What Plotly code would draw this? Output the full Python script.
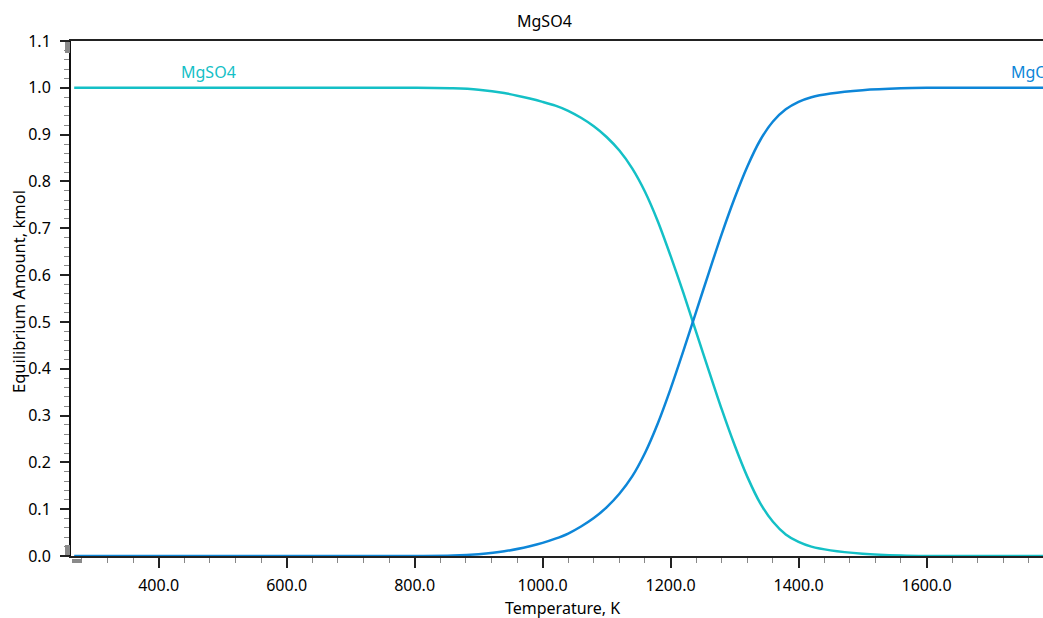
import plotly.graph_objects as go

# ---- data ----
temperature_K = [268, 500, 700, 800, 860, 900, 940, 980, 1000, 1020, 1040, 1060, 1080, 1100,
                 1120, 1140, 1160, 1180, 1200, 1220, 1240, 1260, 1280, 1300, 1320, 1340, 1360,
                 1380, 1400, 1420, 1450, 1500, 1560, 1600, 1700, 1800]
mgso4_kmol = [1.0, 1.0, 1.0, 1.0, 0.999, 0.996, 0.989, 0.977, 0.97, 0.962, 0.951, 0.936, 0.918, 0.895,
              0.866, 0.828, 0.778, 0.715, 0.641, 0.562, 0.478, 0.395, 0.313, 0.237, 0.169, 0.113, 0.073,
              0.046, 0.03, 0.02, 0.012, 0.005, 0.001, 0.0, 0.0, 0.0]
mgo_kmol = [0.0, 0.0, 0.0, 0.0, 0.001, 0.004, 0.01, 0.021, 0.028, 0.037, 0.048, 0.063, 0.081, 0.104,
            0.133, 0.17, 0.22, 0.283, 0.357, 0.438, 0.522, 0.606, 0.688, 0.764, 0.832, 0.888, 0.928,
            0.954, 0.97, 0.98, 0.988, 0.995, 0.999, 1.0, 1.0, 1.0]
series_names = ["MgSO4", "MgO"]
series_colors = ["#14C0C6", "#0D86D8"]
chart_title = "MgSO4"
x_title = "Temperature, K"
y_title = "Equilibrium Amount, kmol"

W, H = 1043, 618
L, R, T, B = 71, 0, 41, 62
PW, PH = W - L - R, H - T - B

def px(x):
    return (x - L) / PW

def py(y):
    return (H - B - y) / PH

FONT = "Noto Sans"

fig = go.Figure()
for vals, name, col in zip([mgso4_kmol, mgo_kmol], series_names, series_colors):
    fig.add_trace(go.Scatter(x=temperature_K, y=vals, mode="lines", name=name,
                             line=dict(color=col, width=2.5, shape="spline", smoothing=0.8),
                             showlegend=False, hoverinfo="skip"))

fig.update_layout(
    width=W, height=H,
    margin=dict(l=L, r=R, t=T, b=B, pad=0),
    paper_bgcolor="white", plot_bgcolor="white",
    font=dict(family=FONT, size=16, color="#000000"),
    xaxis=dict(range=[263, 1782], showgrid=False, zeroline=False,
               showline=True, linecolor="#222222", linewidth=2, mirror=True,
               ticks="outside", ticklen=10, tickwidth=1.5, tickcolor="#222222",
               dtick=200, tick0=0, tickformat=".1f", ticklabelstandoff=4,
               tickfont=dict(family=FONT, size=16, color="#000000"),
               minor=dict(ticks="outside", ticklen=5, dtick=40, tick0=0,
                          tickcolor="#888888", tickwidth=1)),
    yaxis=dict(range=[0, 1.1], showgrid=False, zeroline=False,
               showline=True, linecolor="#111111", linewidth=2, mirror=False,
               ticks="outside", ticklen=9, tickwidth=1.5, tickcolor="#222222",
               dtick=0.1, tick0=0, tickformat=".1f", ticklabelstandoff=6,
               tickfont=dict(family=FONT, size=16, color="#000000"),
               minor=dict(ticks="outside", ticklen=5, dtick=0.02, tick0=0,
                          tickcolor="#888888", tickwidth=1)),
)

ann = [
    dict(text=chart_title, x=px(544), y=py(21), xanchor="center", yanchor="middle",
         font=dict(size=16, color="#000000")),
    dict(text=x_title, x=px(562), y=py(607.5), xanchor="center", yanchor="middle",
         font=dict(size=16, color="#000000")),
    dict(text=y_title, x=px(18), y=py(292), xanchor="center", yanchor="middle",
         textangle=-90, font=dict(size=16.5, color="#000000")),
    dict(text=series_names[0], x=px(208), y=py(72), xanchor="center", yanchor="middle",
         font=dict(size=16, color=series_colors[0])),
    dict(text=series_names[1], x=px(1009), y=py(72), xanchor="left", yanchor="middle",
         font=dict(size=16, color=series_colors[1])),
]
for a in ann:
    a.update(xref="paper", yref="paper", showarrow=False)
fig.update_layout(annotations=ann)

# little grey zoom handles at the axis ends
handles = [(65, 42, 70, 53), (65, 545, 70, 555), (72, 559, 82, 563)]
fig.update_layout(shapes=[dict(type="rect", xref="paper", yref="paper",
                               x0=px(a), x1=px(c), y0=py(d), y1=py(b),
                               fillcolor="#8a8a8a", line=dict(width=0), layer="above")
                          for a, b, c, d in handles])

fig.write_html("out.html")
